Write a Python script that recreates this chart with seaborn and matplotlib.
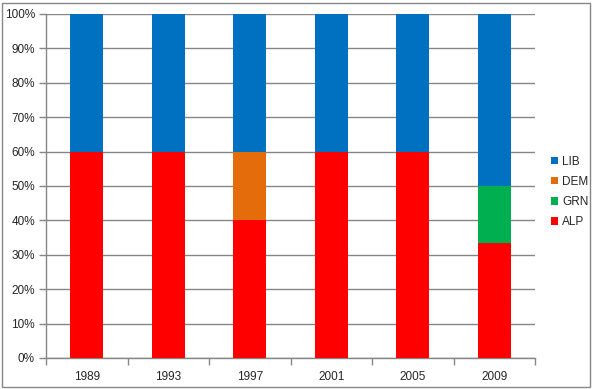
import matplotlib
matplotlib.use("Agg")
import matplotlib.pyplot as plt
import seaborn as sns
import pandas as pd
import numpy as np
from matplotlib.patches import Rectangle
from matplotlib.ticker import PercentFormatter

years = ["1989", "1993", "1997", "2001", "2005", "2009"]
alp = [60, 60, 40, 60, 60, 33.33]
grn = [0, 0, 0, 0, 0, 16.67]
dem = [0, 0, 20, 0, 0, 0]
lib = [40, 40, 40, 40, 40, 50]

series = ["ALP", "GRN", "DEM", "LIB"]
colors = {"ALP": "#FF0000", "GRN": "#00B050", "DEM": "#E46C0A", "LIB": "#0070C0"}
values = {"ALP": alp, "GRN": grn, "DEM": dem, "LIB": lib}

sns.set_style("white")
plt.rcParams["font.family"] = ["Liberation Sans", "DejaVu Sans"]

fig = plt.figure(figsize=(5.93, 3.89), dpi=100)
ax = fig.add_axes([46/593, 31/389, (535-46)/593, (358-14)/389])

gray = "#868686"
bottom = np.zeros(len(years))
for s in series:
    df = pd.DataFrame({"year": years, "val": values[s]})
    sns.barplot(data=df, x="year", y="val", color=colors[s], width=0.4,
                saturation=1, bottom=bottom, ax=ax, label=s, zorder=3, linewidth=0)
    bottom = bottom + np.array(values[s])

if ax.get_legend() is not None:
    ax.get_legend().remove()

ax.set_ylim(0, 100)
ax.set_xlim(-0.5, len(years) - 0.5)
ax.set_yticks(np.arange(0, 101, 10))
ax.yaxis.set_major_formatter(PercentFormatter(decimals=0))
ax.set_xlabel("")
ax.set_ylabel("")
ax.grid(axis="y", color=gray, linewidth=1, zorder=0)
ax.set_axisbelow(True)
for sp in ["top", "right"]:
    ax.spines[sp].set_visible(False)
for sp in ["left", "bottom"]:
    ax.spines[sp].set_color(gray)
    ax.spines[sp].set_linewidth(1)

# x ticks at category boundaries
ax.set_xticks(np.arange(-0.5, len(years), 1), minor=False)
ax.set_xticklabels([""] * (len(years) + 1))
ax.set_xticks(np.arange(len(years)), minor=True)
ax.set_xticklabels(years, minor=True)
ax.tick_params(axis="x", which="major", length=5, color=gray, width=1, direction="out")
ax.tick_params(axis="x", which="minor", length=0, pad=9, labelsize=8.5)
ax.tick_params(axis="y", which="major", length=5, color=gray, width=1, direction="out", labelsize=8.5, pad=3)
ax.tick_params(left=True, bottom=True)

handles, labels = ax.get_legend_handles_labels()
order = ["LIB", "DEM", "GRN", "ALP"]
hmap = dict(zip(labels, handles))
leg = fig.legend([hmap[o] for o in order], order, loc="center left",
                 bbox_to_anchor=(540/593, 1 - 192/389), frameon=False,
                 fontsize=8.5, handlelength=0.6, handleheight=0.6,
                 handletextpad=0.4, labelspacing=0.7)

fig.patches.append(Rectangle((2/593, 2/389), 588/593, 384/389, transform=fig.transFigure,
                             fill=False, edgecolor=gray, linewidth=1))

fig.savefig("out.png", dpi=100)
